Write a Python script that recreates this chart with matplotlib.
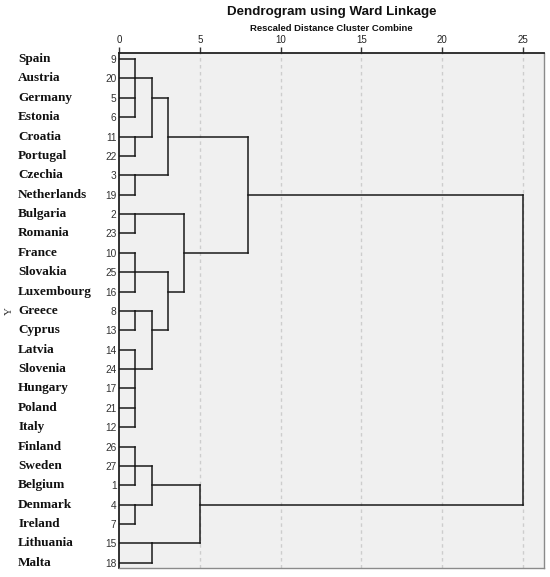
import matplotlib
matplotlib.use("Agg")
import matplotlib.pyplot as plt

# leaves, top to bottom
countries = ["Spain", "Austria", "Germany", "Estonia", "Croatia", "Portugal",
             "Czechia", "Netherlands", "Bulgaria", "Romania", "France",
             "Slovakia", "Luxembourg", "Greece", "Cyprus", "Latvia", "Slovenia",
             "Hungary", "Poland", "Italy", "Finland", "Sweden", "Belgium",
             "Denmark", "Ireland", "Lithuania", "Malta"]
case_numbers = [9, 20, 5, 6, 11, 22, 3, 19, 2, 23, 10, 25, 16, 8, 13, 14, 24,
                17, 21, 12, 26, 27, 1, 4, 7, 15, 18]

# merges: children are leaf rows (int) or earlier merge ids (str)
merge_ids = list("ABCDEFGHIJKLMNOPQRS")
merge_children = [
    [0, 1, 2, 3], [4, 5], ["A", "B"], [6, 7], ["C", "D"],
    [8, 9], [10, 11, 12], [13, 14], [15, 16, 17, 18, 19], ["H", "I"],
    ["G", "J"], ["F", "K"], ["E", "L"],
    [20, 21, 22], [23, 24], ["N", "O"], [25, 26], ["P", "Q"],
    ["M", "R"],
]
merge_heights = [1, 1, 2, 1, 3, 1, 1, 1, 1, 2, 3, 4, 8, 1, 1, 2, 2, 5, 25]
merge_out_rows = [1, 4, 2, 6, 4, 8, 11, 13, 16, 14, 12, 10, 7,
                  21, 23, 22, 25, 23, 15]

xticks = [0, 5, 10, 15, 20, 25]

fig = plt.figure(figsize=(5.5, 5.77), dpi=100)
ax = fig.add_axes([119.3 / 550, 1 - 568 / 577, 425 / 550, 515 / 577])
ax.set_facecolor("#f0f0f0")

ax.set_xlim(0, 26.35)
ax.set_ylim(26.27, -0.31)

for x in xticks[1:]:
    ax.axvline(x, color="#cdcdcd", lw=1.0, ls=(0, (2.5, 2.5)), zorder=1)

line_kw = dict(color="#1a1a1a", lw=1.1, solid_capstyle="projecting", zorder=3)
node_row = {}
node_h = {}
for mid, kids, h, out in zip(merge_ids, merge_children, merge_heights, merge_out_rows):
    rows = []
    for k in kids:
        r = k if isinstance(k, int) else node_row[k]
        kh = 0 if isinstance(k, int) else node_h[k]
        ax.plot([kh, h], [r, r], **line_kw)
        rows.append(r)
    ax.plot([h, h], [min(rows), max(rows)], **line_kw)
    node_row[mid] = out
    node_h[mid] = h

# axis / ticks
ax.xaxis.tick_top()
ax.set_xticks(xticks)
ax.tick_params(axis="x", direction="out", length=4, width=1.0, color="#333333",
               labelsize=7, pad=1.5, labelcolor="#222222")
ax.set_yticks(range(len(case_numbers)))
ax.set_yticklabels([str(c) for c in case_numbers])
ax.tick_params(axis="y", length=0, pad=2, labelsize=7.3, labelcolor="#333333")

for lbl in ax.get_xticklabels() + ax.get_yticklabels():
    lbl.set_family(["Liberation Sans", "DejaVu Sans"])

ax.spines["top"].set_color("#222222")
ax.spines["left"].set_color("#222222")
ax.spines["top"].set_linewidth(1.3)
ax.spines["left"].set_linewidth(1.3)
ax.spines["right"].set_color("#8a8a8a")
ax.spines["bottom"].set_color("#8a8a8a")
ax.spines["right"].set_linewidth(1.0)
ax.spines["bottom"].set_linewidth(1.0)

ytr = ax.get_yaxis_transform()
for i, name in enumerate(countries):
    ax.text(-0.238, i, name, transform=ytr, ha="left", va="center",
            fontsize=9.5, fontweight="bold", family="Liberation Serif",
            color="#111111")

ax.text(-0.258, 13, "Y", transform=ytr, rotation=90, ha="center", va="center",
        fontsize=8, family="Liberation Serif", color="#333333")

ax.text(0.5, 1.0796, "Dendrogram using Ward Linkage", transform=ax.transAxes,
        ha="center", va="center", fontsize=9.6, fontweight="bold",
        family="Liberation Sans", color="#111111")
ax.text(0.5, 1.0485, "Rescaled Distance Cluster Combine", transform=ax.transAxes,
        ha="center", va="center", fontsize=6.8, fontweight="bold",
        family="Liberation Sans", color="#111111")

fig.savefig("out.png", dpi=100)
